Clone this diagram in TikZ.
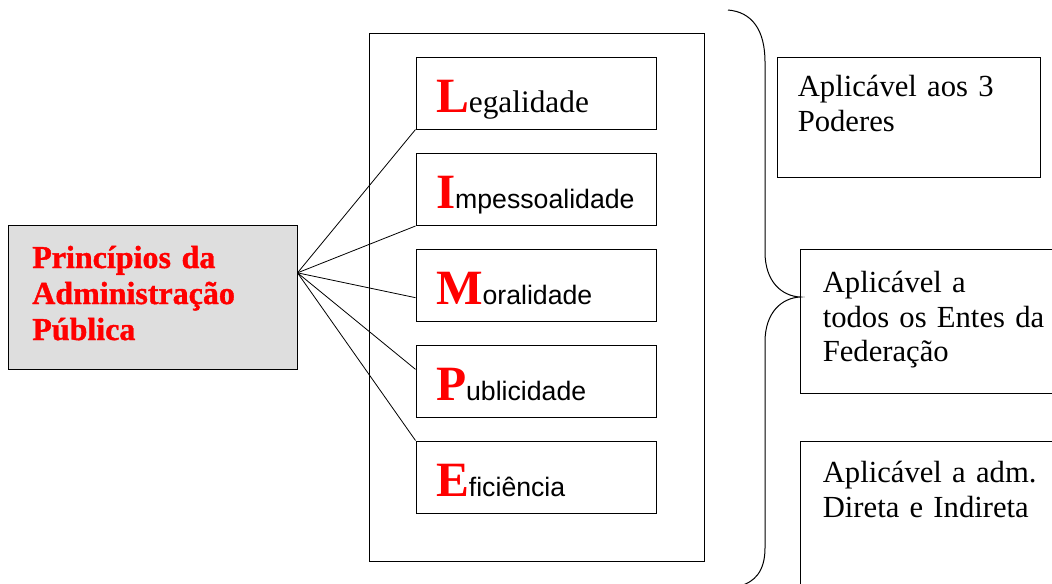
\documentclass[tikz,border=0pt]{standalone}
\usepackage{fontspec}
\setmainfont{Liberation Serif}
\setsansfont{Liberation Sans}
\newfontfamily\negrito[FakeBold=1.2]{Liberation Serif Bold}
\newfontfamily\serifa{Liberation Serif}
\usetikzlibrary{calc}

\newcommand{\inicial}[1]{{\fontsize{37}{37}\selectfont\bfseries\color{red}#1}}
\newcommand{\restoserif}{\fontsize{23.5}{25}\selectfont\serifa}
\newcommand{\restosans}{\fontsize{20}{22}\selectfont\sffamily}

\tikzset{
  caixa/.style={draw, line width=.75pt, inner sep=0pt},
  principio/.style={caixa, minimum width=180pt, minimum height=54pt,
    inner xsep=15pt, text width=150pt, align=left,
    text height=38pt, text depth=9.5pt},
  aviso/.style={anchor=base west, inner sep=0pt, text width=230pt, align=left,
    font=\fontsize{23}{26}\selectfont},
  ligacao/.style={line width=.6pt},
}

\begin{document}
\begin{tikzpicture}[x=.75pt, y=-.75pt]
  \useasboundingbox (0, 0) rectangle (1052, 583) ;
%--- Caixa da esquerda
  \node[caixa, fill=black!13, minimum width=216.75pt, minimum height=108pt] (adm) at (152.5, 297) {} ;
  \node[anchor=base west, inner sep=0pt, text width=190pt, align=left, text=red,
    font=\fontsize{24}{27}\selectfont\negrito] (admtxt) at (32, 268)
    {Princípios da\\Administração\\Pública} ;
%--- Os cinco principios
  \draw[line width=.75pt] (369, 33) rectangle (704, 561) ;
  \node[principio] (legal) at (536, 93) {\inicial{L}\restoserif egalidade} ;
  \foreach \nome/\y/\letra/\resto in {impes/189.5/I/mpessoalidade, moral/285.5/M/oralidade,
      publi/381.5/P/ublicidade, efici/477/E/ficiência}
    \node[principio] (\nome) at (536, \y) {\inicial{\letra}\restosans\resto} ;
%--- Ligacoes
  \coordinate (centro) at ($(adm.north east)!1/3!(adm.south east)$) ;
  \draw[ligacao] (centro) -- (legal.south west) ;
  \draw[ligacao] (centro) -- (impes.south west) ;
  \draw[ligacao] (centro) -- ($(moral.north west)!2/3!(moral.south west)$) ;
  \draw[ligacao] (centro) -- ($(publi.north west)!1/3!(publi.south west)$) ;
  \draw[ligacao] (centro) -- (efici.north west) ;
%--- Chave
  \draw[line width=.75pt] (728, 10) .. controls (752, 12) and (765, 30) .. (765, 62)
     -- (765, 252) .. controls (765, 282) and (782, 296) .. (800, 297)
     .. controls (782, 298) and (765, 312) .. (765, 342)
     -- (765, 548) .. controls (765, 572) and (754, 582) .. (740, 586) ;
%--- Caixas da direita
  \node[caixa, minimum width=197.25pt, minimum height=90pt] (aviso1) at (908.5, 117) {} ;
  \node[caixa, minimum width=202.5pt, minimum height=108pt] (aviso2) at (935, 321) {} ;
  \node[caixa, minimum width=202.5pt, minimum height=126.75pt] (aviso3) at (935, 525.5) {} ;
  \node[aviso] (txt1) at ([shift={(21, 40)}]aviso1.north west) {Aplicável aos 3\\Poderes} ;
  \node[aviso] (txt2) at ([shift={(23, 44)}]aviso2.north west) {Aplicável a\\todos os Entes da\\Federação} ;
  \node[aviso] (txt3) at ([shift={(23, 42)}]aviso3.north west) {Aplicável a adm.\\Direta e Indireta} ;
\end{tikzpicture}
\end{document}
